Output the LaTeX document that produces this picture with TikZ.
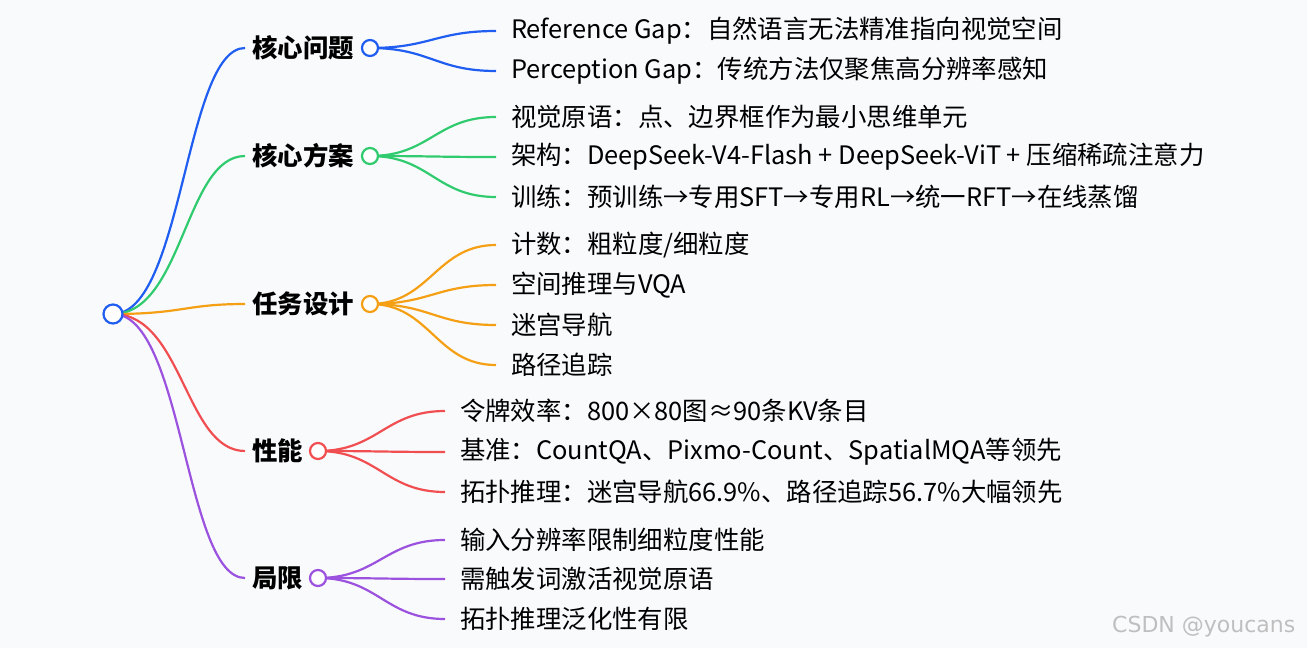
\documentclass[tikz,border=0pt]{standalone}
\usepackage{fontspec}
\setmainfont{Noto Sans CJK SC}
\setsansfont{DejaVu Sans}
\usetikzlibrary{positioning}
\definecolor{cblue}{HTML}{1F5EF0}
\definecolor{cgreen}{HTML}{2FCB6E}
\definecolor{corange}{HTML}{F5A014}
\definecolor{cred}{HTML}{F04E50}
\definecolor{cpurple}{HTML}{9B52DE}
\definecolor{bgcol}{HTML}{F9FAFC}

\begin{document}
\begin{tikzpicture}[x=0.5pt,y=-0.5pt,line width=1pt]
\tikzset{
  hub/.style={draw, circle, fill=white, line width=1.1pt, minimum size=8pt, inner sep=0pt},
  branch/.style={font=\fontsize{12.7}{14}\selectfont\bfseries, anchor=east, inner sep=0pt},
  leaf/.style={font=\fontsize{12.7}{14}\selectfont, anchor=west, inner sep=0pt},
  link/.style={line width=1.1pt}
}
\fill[bgcol] (0,0) rectangle (1307,648);
\useasboundingbox (0,0) rectangle (1307,648);

% root
\coordinate (root) at (113,314);

% branches
\node[branch] (b1) at (355,48) {核心问题};
\node[branch] (b2) at (355,156) {核心方案};
\node[branch] (b3) at (355,304) {任务设计};
\node[branch] (b4) at (304,451) {性能};
\node[branch] (b5) at (304,578) {局限};
\coordinate (e1) at (245,48);
\coordinate (e2) at (245,156);
\coordinate (e3) at (245,304);
\coordinate (e4) at (245,451);
\coordinate (e5) at (245,578);

\foreach \e/\c in {e1/cblue,e2/cgreen,e3/corange,e4/cred,e5/cpurple}
  \draw[link,\c] (root) .. controls +(70,0) and +(-60,0) .. (\e);

% leaves
\node[leaf] (l11) at (510,31) {Reference Gap：自然语言无法精准指向视觉空间};
\node[leaf] (l12) at (510,71) {Perception Gap：传统方法仅聚焦高分辨率感知};
\node[leaf] (l21) at (510,117) {视觉原语：点、边界框作为最小思维单元};
\node[leaf] (l22) at (510,157) {架构：DeepSeek-V4-Flash + DeepSeek-ViT + 压缩稀疏注意力};
\node[leaf] (l23) at (510,197) {训练：预训练→专用SFT→专用RL→统一RFT→在线蒸馏};
\node[leaf] (l31) at (510,245) {计数：粗粒度/细粒度};
\node[leaf] (l32) at (510,285) {空间推理与VQA};
\node[leaf] (l33) at (510,325) {迷宫导航};
\node[leaf] (l34) at (510,365) {路径追踪};
\node[leaf] (l41) at (459,411) {令牌效率：800×80图≈90条KV条目};
\node[leaf] (l42) at (459,452) {基准：CountQA、Pixmo-Count、SpatialMQA等领先};
\node[leaf] (l43) at (459,492) {拓扑推理：迷宫导航66.9\%、路径追踪56.7\%大幅领先};
\node[leaf] (l51) at (459,540) {输入分辨率限制细粒度性能};
\node[leaf] (l52) at (459,579) {需触发词激活视觉原语};
\node[leaf] (l53) at (459,619) {拓扑推理泛化性有限};

\foreach \b/\c/\d/\ls in {1/cblue/370/{l11,l12},2/cgreen/370/{l21,l22,l23},3/corange/370/{l31,l32,l33,l34},4/cred/318/{l41,l42,l43},5/cpurple/318/{l51,l52,l53}}{
  \foreach \l in \ls
    \draw[link,\c] (\d,0 |- b\b) .. controls +(60,0) and +(-60,0) .. ([xshift=-7pt]\l.west);
  \node[hub,draw=\c] (h\b) at (\d,0 |- b\b) {};
}
\node[hub,draw=cblue, minimum size=9.5pt] (r) at (root) {};

\node[font=\fontsize{11}{12}\sffamily, text=gray!50, anchor=east] (wm) at (1303,627) {CSDN @youcans};
\end{tikzpicture}
\end{document}
